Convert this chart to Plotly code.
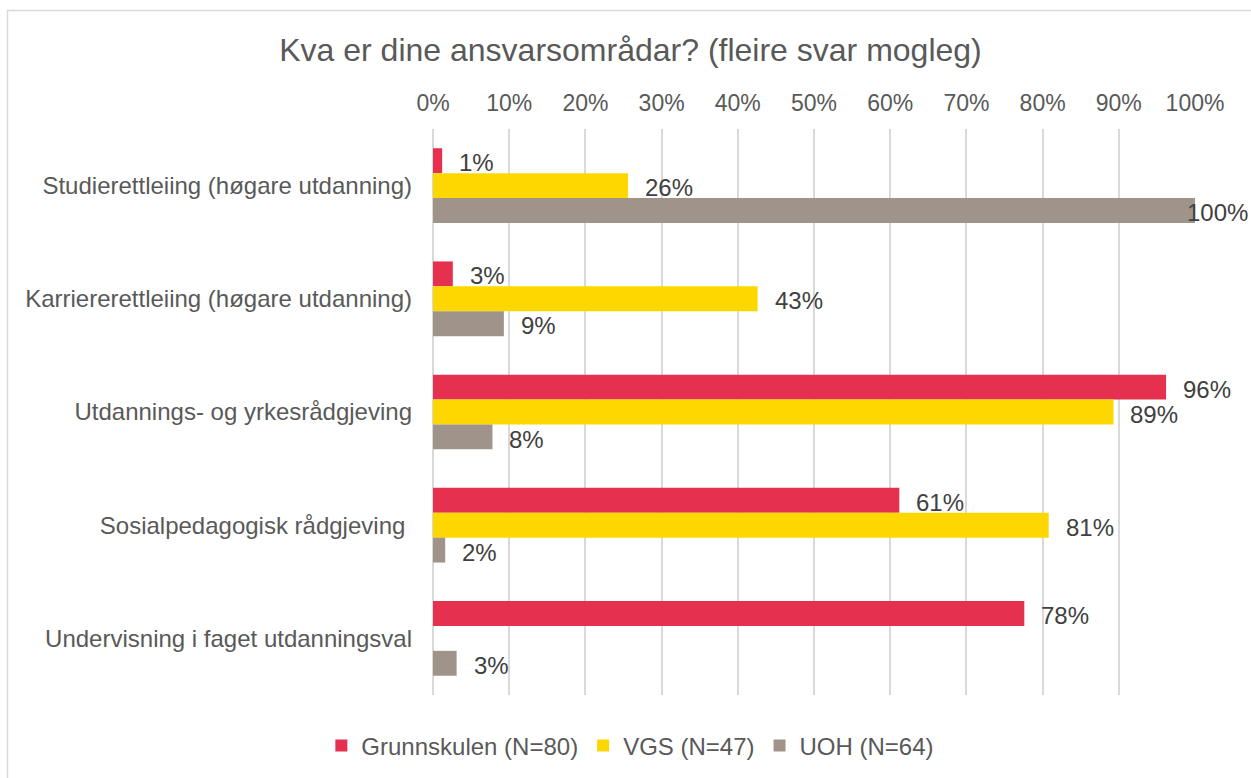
import plotly.graph_objects as go

categories = [
    "Studierettleiing (høgare utdanning)",
    "Karriererettleiing (høgare utdanning)",
    "Utdannings- og yrkesrådgjeving",
    "Sosialpedagogisk rådgjeving\u00a0",
    "Undervisning i faget utdanningsval",
]
series_names = ["Grunnskulen (N=80)", "VGS (N=47)", "UOH (N=64)"]
grunnskulen = [1.2, 2.6, 96.2, 61.2, 77.6]
vgs = [25.6, 42.6, 89.3, 80.8, None]
uoh = [100.0, 9.3, 7.8, 1.6, 3.1]
x_ticks = [0, 10, 20, 30, 40, 50, 60, 70, 80, 90, 100]

colors = ["#E6304F", "#FFD700", "#A0948A"]
FONT = "Liberation Sans, Arial, sans-serif"
TXT = "#595959"

W, H = 1251, 778
ML, MR, MT, MB = 433, 56, 129, 83
pw, ph = W - ML - MR, H - MT - MB

fig = go.Figure()
all_series = [grunnskulen, vgs, uoh]
for name, vals, col in zip(series_names, all_series, colors):
    fig.add_trace(go.Bar(
        y=categories, x=vals, name=name, orientation="h",
        marker=dict(color=col, line=dict(width=0)),
        hoverinfo="x+name",
    ))

# data labels
yshifts = [23, -2, -27]
annotations = []
for vals, ys in zip(all_series, yshifts):
    for cat, v in zip(categories, vals):
        if v is None:
            continue
        xs = 15 if v < 99 else -10
        annotations.append(dict(
            x=v, y=cat, xref="x", yref="y", text=f"{v:.0f}%",
            showarrow=False, xanchor="left", yanchor="middle",
            xshift=xs, yshift=ys,
            font=dict(family=FONT, size=24, color="#404040"),
        ))

fig.update_layout(
    width=W, height=H,
    margin=dict(l=ML, r=MR, t=MT, b=MB, autoexpand=False),
    paper_bgcolor="white", plot_bgcolor="white",
    barmode="group", bargap=0.34, bargroupgap=0,
    font=dict(family=FONT, color=TXT, size=24),
    title=dict(text="Kva er dine ansvarsområdar? (fleire svar mogleg)",
               x=0.504, xanchor="center", y=1 - 50 / H, yanchor="middle",
               xref="container", yref="container",
               font=dict(family=FONT, size=32, color=TXT)),
    xaxis=dict(side="top", range=[0, 100], tickvals=x_ticks,
               ticktext=[f"{t}%" for t in x_ticks],
               showgrid=True, gridcolor="#D9D9D9", gridwidth=1.5,
               zeroline=True, zerolinecolor="#D9D9D9", zerolinewidth=1.5,
               showline=False, ticks="", ticklabelstandoff=12,
               tickfont=dict(family=FONT, size=23, color=TXT),
               automargin=False, fixedrange=True),
    yaxis=dict(type="category", autorange="reversed", showgrid=False,
               zeroline=False, showline=False, ticks="",
               ticklabelstandoff=20,
               tickfont=dict(family=FONT, size=24, color=TXT),
               automargin=False, fixedrange=True),
    legend=dict(orientation="h", x=0.259, xanchor="center",
                y=-0.09, yanchor="middle",
                font=dict(family=FONT, size=24, color=TXT),
                traceorder="normal"),
    annotations=annotations,
    shapes=[dict(type="rect", xref="paper", yref="paper",
                 x0=(7.5 - ML) / pw, x1=1.2, y0=-0.3, y1=1 + (MT - 10.5) / ph,
                 line=dict(color="#D9D9D9", width=1.5), fillcolor="rgba(0,0,0,0)",
                 layer="below")],
)

fig.write_html("out.html", config={"displayModeBar": False},
               post_script="document.body.style.margin='0';document.body.style.padding='0';")
